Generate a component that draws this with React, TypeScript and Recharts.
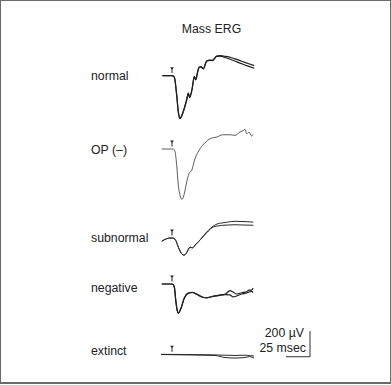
import { LineChart, Line, XAxis, YAxis, ReferenceDot, ReferenceLine } from "recharts";

// page geometry (px) and recording scale (from the 200 µV / 25 msec bar)
const W = 391;
const H = 385;
const STIM_X = 172;
const PX_PER_MS = 24 / 25;
const PX_PER_UV = 25.7 / 200;

// normal
const normalT = [-10, 0, 2.4, 4.9, 6.6, 8.3, 11.8, 15.3, 17, 18.4, 21.1, 23.2, 24.7, 26.8, 28.1, 30.2, 32.6, 36.1, 39.6, 42, 46.6, 50, 56, 62, 68, 74, 80, 85.7];
const normalA = [0, 0, -10, -150, -280, -331, -280, -189, -137, -171, -98, -8, -33, 31, 62, 70, 52, 114, 122, 117, 153, 156, 150, 140, 125, 109, 93, 78];
const normalB = [0, 0, -12, -155, -285, -334, -276, -185, -135, -168, -95, -5, -30, 34, 64, 68, 55, 112, 120, 119, 150, 152, 140, 124, 106, 89, 73, 58];

// OP (-)
const opT = [-10.7, 0, 1.4, 3.1, 4.9, 6.6, 8.3, 10.1, 11.5, 12.8, 15.3, 17.7, 20.5, 24, 29.2, 34.4, 39.6, 46.6, 53.4, 60.4, 65.6, 70.8, 74.3, 76, 77.8, 80.2, 83, 84.4];
const opA = [0, 0, 0, -18, -127, -282, -358, -391, -381, -348, -257, -192, -166, -75, 2, 49, 80, 93, 111, 111, 106, 132, 145, 153, 119, 132, 101, 113];

// subnormal
const subT = [-10.7, -5.5, -2.1, 1.4, 3.9, 6.6, 10.1, 12.5, 15.3, 18.8, 21.1, 24, 27.4, 32.6, 37.8, 43, 46.9, 51.8, 58, 65.6, 75, 84.7];
const subA = [-26, -5, 0, 0, -18, -70, -122, -135, -114, -70, -78, -57, -31, 16, 60, 93, 109, 117, 124, 130, 128, 124];
const subB = [-24, -6, 0, -2, -20, -72, -124, -133, -112, -72, -76, -55, -30, 12, 54, 86, 93, 98, 101, 103, 101, 99];

// negative
const negT = [-10.7, 0.3, 2.4, 3.9, 5.2, 6.6, 9.4, 12.8, 17, 21.1, 25.7, 30.9, 36.1, 41.4, 48.2, 55.2, 60.4, 63.5, 67.4, 72.6, 77.8, 80.2, 83, 84.4];
const negA = [0, 0, -21, -124, -195, -228, -189, -111, -72, -65, -78, -99, -109, -99, -88, -80, -52, -62, -78, -68, -60, -47, -47, -31];
const negB = [0, 0, -23, -128, -198, -226, -186, -108, -70, -66, -80, -101, -107, -97, -90, -82, -84, -100, -93, -78, -70, -62, -58, -66];

// extinct
const extT = [-11.5, 18.8, 44.8, 55.2, 65.6, 76, 80.5, 85.4];
const extA = [0, -2, -5, -7, -9, -7, -10, -13];
const extB = [-2, -5, -9, -25, -29, -25, -18, -29];

// scale bar
const SCALE_MS = 25;
const SCALE_UV = 200;

const toData = (t: number[], a: number[], b?: number[]) =>
  t.map((x, i) => ({ t: x, a: a[i], b: b ? b[i] : undefined }));

const rows = [
  { id: "normal", label: "normal", base: 75.7, labelY: 76, data: toData(normalT, normalA, normalB), color: "#1e1e1e", width: 1.2, two: true },
  { id: "op", label: "OP (\u2013)", base: 149, labelY: 150, data: toData(opT, opA), color: "#4a4a4a", width: 0.9, two: false },
  { id: "sub", label: "subnormal", base: 238, labelY: 237.7, data: toData(subT, subA, subB), color: "#2a2a2a", width: 1, two: true },
  { id: "neg", label: "negative", base: 284, labelY: 288.3, data: toData(negT, negA, negB), color: "#1e1e1e", width: 1.2, two: true },
  { id: "ext", label: "extinct", base: 354.3, labelY: 350.7, data: toData(extT, extA, extB), color: "#2a2a2a", width: 1, two: true },
];

const xDomain = [-STIM_X / PX_PER_MS, (W - STIM_X) / PX_PER_MS];
const yDomain = (base: number) => [-(H - base) / PX_PER_UV, base / PX_PER_UV];

function StimMark({ cx, cy }: { cx?: number; cy?: number }) {
  if (cx == null || cy == null) return null;
  return (
    <g>
      <path d={`M${cx - 1.8},${cy - 8.5} L${cx + 1.8},${cy - 8.5} L${cx},${cy - 5.5} Z`} fill="#222" />
      <line x1={cx} x2={cx} y1={cy - 6} y2={cy - 2.5} stroke="#222" strokeWidth={1} />
    </g>
  );
}

const font = '"Liberation Sans", Arial, Helvetica, sans-serif';
const textStyle = { position: "absolute" as const, fontFamily: font, fontSize: 12.3, color: "#222", lineHeight: "14px", whiteSpace: "nowrap" as const };

// scale bar anchor, relative to the extinct baseline
const barT0 = (286 - STIM_X) / PX_PER_MS;
const barV0 = -19;

export default function App() {
  const lines = rows.flatMap((r) => (r.two ? [[r, "a"], [r, "b"]] : [[r, "a"]])) as [typeof rows[number], string][];
  return (
    <div style={{ position: "absolute", left: 0, top: 0, width: W, height: H, background: "#fff", overflow: "hidden" }}>
      <LineChart width={W} height={H} margin={{ top: 0, right: 0, bottom: 0, left: 0 }}>
        <XAxis type="number" dataKey="t" domain={xDomain} allowDataOverflow hide />
        {rows.map((r) => (
          <YAxis key={r.id} yAxisId={r.id} type="number" domain={yDomain(r.base)} allowDataOverflow hide />
        ))}
        {lines.map(([r, key]) => (
          <Line
            key={`${r.id}-${key}`}
            yAxisId={r.id}
            data={r.data}
            dataKey={key}
            type="monotone"
            stroke={r.color}
            strokeWidth={r.width}
            dot={false}
            activeDot={false}
            isAnimationActive={false}
          />
        ))}
        {rows.map((r) => (
          <ReferenceDot key={`${r.id}-stim`} yAxisId={r.id} x={0} y={0} shape={<StimMark />} ifOverflow="visible" />
        ))}
        <ReferenceLine
          yAxisId="ext"
          segment={[{ x: barT0, y: barV0 }, { x: barT0 + SCALE_MS, y: barV0 }]}
          stroke="#333"
          strokeWidth={1}
        />
        <ReferenceLine
          yAxisId="ext"
          segment={[{ x: barT0 + SCALE_MS, y: barV0 }, { x: barT0 + SCALE_MS, y: barV0 + SCALE_UV }]}
          stroke="#333"
          strokeWidth={1}
        />
      </LineChart>

      <div style={{ ...textStyle, left: 150, width: 123, top: 22, textAlign: "center" }}>Mass ERG</div>
      {rows.map((r) => (
        <div key={r.id} style={{ ...textStyle, left: 91, top: r.labelY - 7 }}>
          {r.label}
        </div>
      ))}
      <div style={{ ...textStyle, right: W - 304, top: 326 }}>{"200 \u00b5V"}</div>
      <div style={{ ...textStyle, right: W - 306, top: 341 }}>25 msec</div>

      <div
        style={{
          position: "absolute",
          left: 0,
          top: 0,
          width: W,
          height: 384,
          boxSizing: "border-box",
          borderStyle: "solid",
          borderColor: "#6a6a6a",
          borderWidth: "1px 1px 2px 1px",
          pointerEvents: "none",
        }}
      />
    </div>
  );
}
